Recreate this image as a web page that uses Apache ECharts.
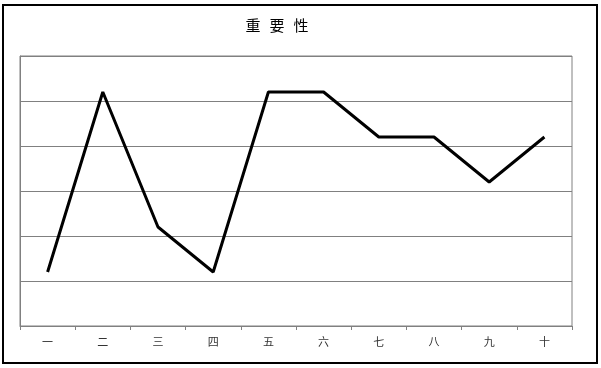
<!DOCTYPE html>
<html><head><meta charset="utf-8">
<script src="https://cdn.jsdelivr.net/npm/echarts@6/dist/echarts.min.js"></script>
<style>html,body{margin:0;padding:0;background:#fff}#c{width:601px;height:368px}</style>
</head><body><div id="c"></div>
<script>
const titleText = '重 要 性';
const categories = ['一','二','三','四','五','六','七','八','九','十'];
const values = [1.2, 5.2, 2.2, 1.2, 5.2, 5.2, 4.2, 4.2, 3.2, 4.2];
const yMin = 0, yMax = 6, yStep = 1;

const chart = echarts.init(document.getElementById('c'), null, {renderer:'canvas'});
chart.setOption({
  animation:false,
  backgroundColor:'#fff',
  title:{text:titleText,left:272,top:15,textAlign:'center',
    textStyle:{fontFamily:"'DejaVu Sans Mono','Noto Sans CJK SC'",fontSize:15,fontWeight:'normal',color:'#000'}},
  grid:{left:20,right:29,top:56,bottom:42,show:true,borderColor:'#808080',borderWidth:1,backgroundColor:'#fff'},
  xAxis:{type:'category',data:categories,boundaryGap:true,
    axisLine:{lineStyle:{color:'#808080',width:1}},
    axisTick:{show:true,length:4,lineStyle:{color:'#808080'}},
    axisLabel:{margin:10,fontFamily:'Noto Sans CJK SC',fontSize:11,color:'#333'},
    splitLine:{show:false}},
  yAxis:{type:'value',min:yMin,max:yMax,interval:yStep,
    axisLine:{show:true,lineStyle:{color:'#808080'}},
    axisTick:{show:false},axisLabel:{show:false},
    splitLine:{show:true,lineStyle:{color:'#808080',width:1}}},
  series:[{type:'line',data:values,showSymbol:false,symbol:'none',
    lineStyle:{color:'#000',width:3},itemStyle:{color:'#000'}}],
  graphic:[{type:'rect',shape:{x:3,y:5,width:594,height:358},
    style:{fill:'none',stroke:'#000',lineWidth:2},silent:true,z:100}]
});
</script></body></html>
